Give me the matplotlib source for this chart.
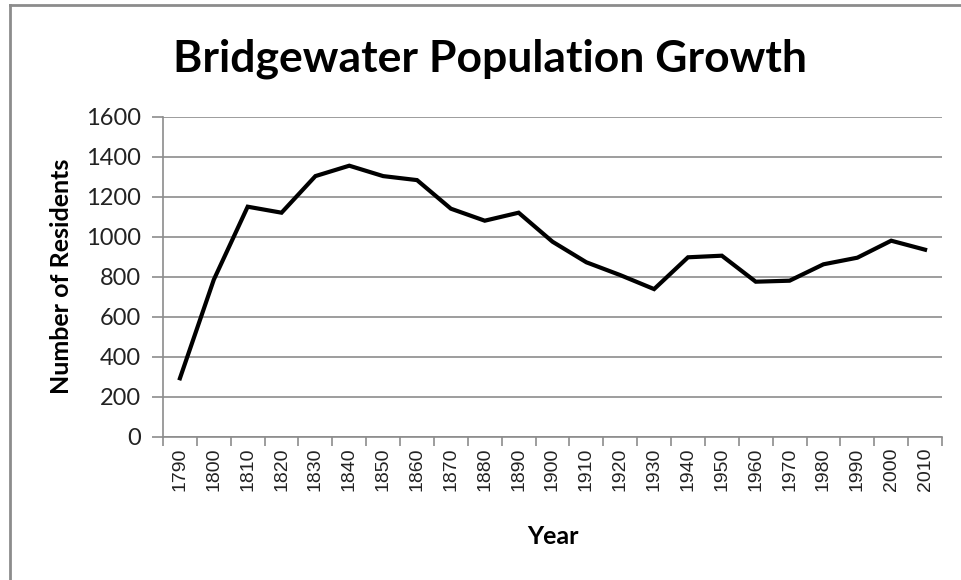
import matplotlib
matplotlib.use("Agg")
import matplotlib.pyplot as plt
from matplotlib.lines import Line2D

# data
years = ['1790', '1800', '1810', '1820', '1830', '1840', '1850', '1860', '1870', '1880',
         '1890', '1900', '1910', '1920', '1930', '1940', '1950', '1960', '1970', '1980',
         '1990', '2000', '2010']
residents = [292, 785, 1150, 1120, 1303, 1355, 1303, 1283, 1140, 1080,
             1120, 975, 872, 808, 738, 897, 905, 775, 780, 862,
             895, 980, 935]
y_ticks = [0, 200, 400, 600, 800, 1000, 1200, 1400, 1600]

fig = plt.figure(figsize=(9.61, 5.8), dpi=100)
ax = fig.add_axes([163 / 961, 1 - 436.7 / 580, (942 - 163) / 961, 320 / 580])

x = list(range(len(years)))
ax.plot(x, residents, color='black', linewidth=3.0, solid_joinstyle='miter', zorder=3)

# axes look
ax.set_xlim(-0.5, len(years) - 0.5)
ax.set_ylim(0, 1600)
ax.set_yticks(y_ticks)
ax.yaxis.grid(True, color='#8c8c8c', linewidth=1.2)
ax.set_axisbelow(True)
for side in ['top', 'right']:
    ax.spines[side].set_visible(False)
for side in ['left', 'bottom']:
    ax.spines[side].set_color('#8c8c8c')
    ax.spines[side].set_linewidth(1.2)

# tick marks sit between categories, labels at the centres
ax.set_xticks([i - 0.5 for i in range(len(years) + 1)])
ax.set_xticklabels([])
ax.set_xticks(x, minor=True)
ax.set_xticklabels(years, minor=True, rotation=90, fontsize=14,
                   fontfamily='Liberation Sans', color='#222222')
ax.tick_params(axis='x', which='major', length=6.5, width=1.2, color='#8c8c8c')
ax.tick_params(axis='x', which='minor', length=0, pad=8)
ax.tick_params(axis='y', length=8, width=1.2, color='#8c8c8c', pad=8,
               labelsize=17, labelcolor='#222222')
for lab in ax.get_yticklabels():
    lab.set_fontfamily('Lato')

ax.set_ylabel('Number of Residents', fontsize=18, fontweight='bold',
              fontfamily='Lato', labelpad=9)
ax.set_xlabel('Year', fontsize=18, fontweight='bold', fontfamily='Lato', labelpad=24)

fig.text(490 / 961, 1 - 59 / 580, 'Bridgewater Population Growth', ha='center', va='center',
         fontsize=32, fontweight='bold', fontfamily='Lato')

# chart frame (only top and left edges are visible in the reference)
fig.add_artist(Line2D([10 / 961, 1.0], [1 - 5 / 580, 1 - 5 / 580], color='#8c8c8c',
                      linewidth=2, transform=fig.transFigure))
fig.add_artist(Line2D([10 / 961, 10 / 961], [0, 1 - 5 / 580], color='#8c8c8c',
                      linewidth=2, transform=fig.transFigure))

fig.savefig('out.png', dpi=100)
